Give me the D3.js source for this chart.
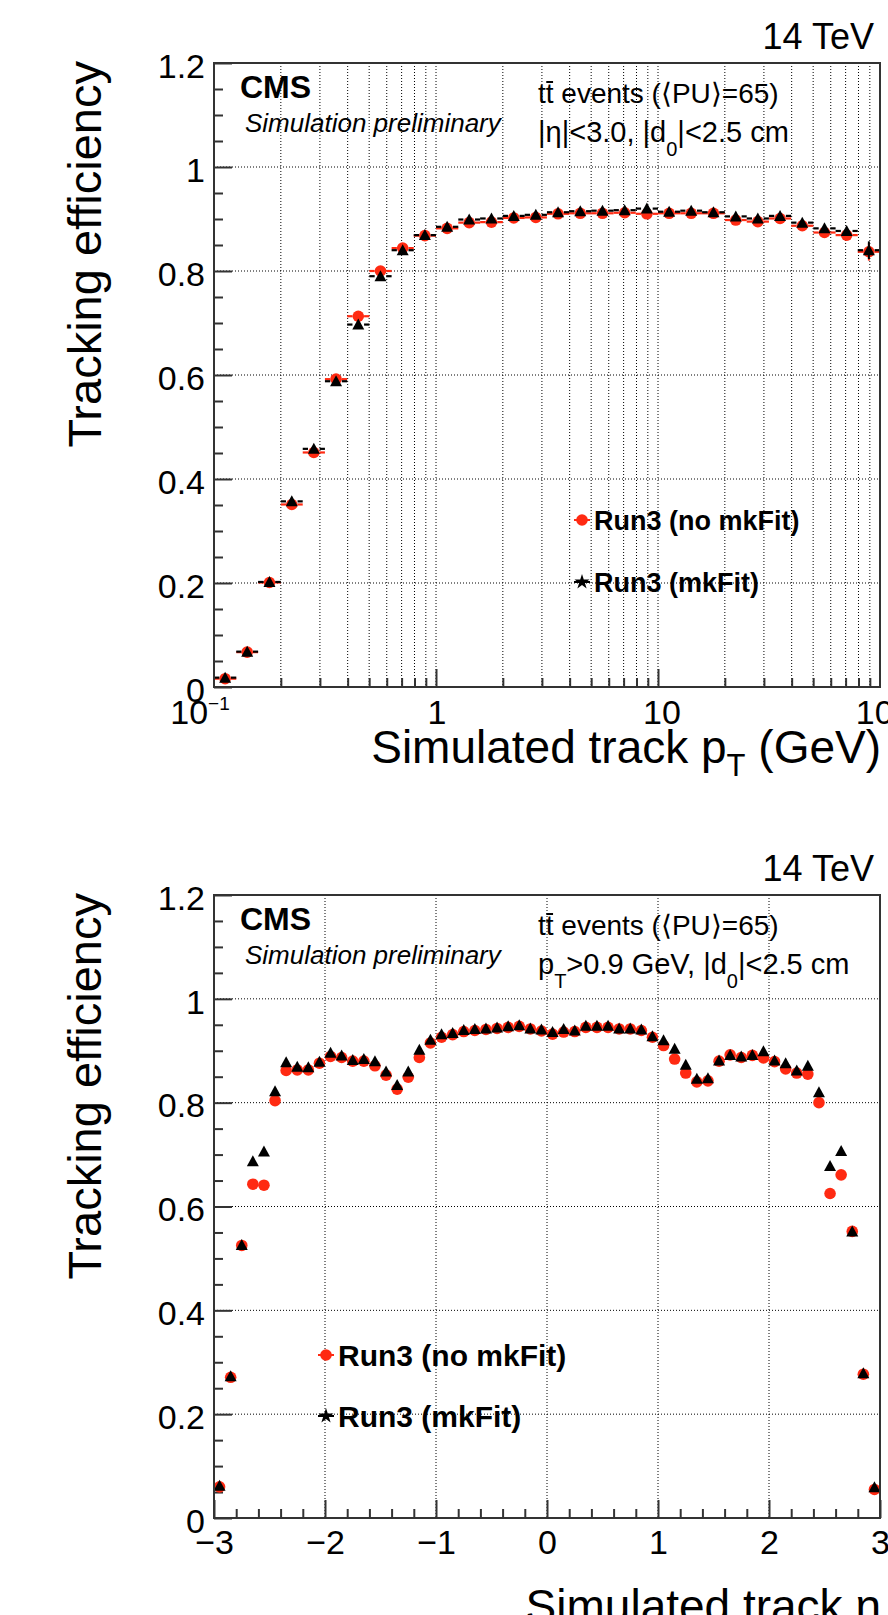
<!DOCTYPE html>
<html lang="en">
<head>
<meta charset="utf-8">
<title>Tracking efficiency</title>
<script src="https://cdnjs.cloudflare.com/ajax/libs/d3/7.8.5/d3.min.js"></script>
<style>
  body { margin: 0; background: #fff; }
  svg text { font-family: "Liberation Sans", Arial, Helvetica, sans-serif; fill: #000; }
</style>
</head>
<body>
<div id="chart"></div>
<script>

// ---- data ----
// pT bins (GeV), 10 per decade
var ptEdges = [0.1, 0.126, 0.158, 0.2, 0.251, 0.316, 0.398, 0.501, 0.631, 0.794,
               1, 1.26, 1.58, 2, 2.51, 3.16, 3.98, 5.01, 6.31, 7.94,
               10, 12.6, 15.8, 20, 25.1, 31.6, 39.8, 50.1, 63.1, 79.4, 100];
var ptMkFit = [0.018, 0.068, 0.202, 0.357, 0.458, 0.588, 0.697, 0.790, 0.840, 0.869,
               0.885, 0.899, 0.901, 0.906, 0.908, 0.913, 0.915, 0.916, 0.917, 0.920,
               0.914, 0.916, 0.913, 0.905, 0.901, 0.906, 0.893, 0.882, 0.877, 0.840];
var ptNoMkFit = [0.016, 0.067, 0.201, 0.351, 0.451, 0.592, 0.713, 0.800, 0.844, 0.868,
                 0.882, 0.893, 0.894, 0.902, 0.903, 0.910, 0.911, 0.911, 0.912, 0.910,
                 0.911, 0.911, 0.911, 0.898, 0.895, 0.901, 0.887, 0.874, 0.869, 0.837];
var ptErr = [0, 0, 0, 0, 0, 0, 0, 0, 0, 0, 0, 0, 0, 0, 0, 0, 0, 0, 0, 0,
             0, 0, 0, 0, 0, 0, 0, 0, 0, 0.017];

// eta bins, width 0.1
var etaEdges = [-3, -2.9, -2.8, -2.7, -2.6, -2.5, -2.4, -2.3, -2.2, -2.1,
                -2, -1.9, -1.8, -1.7, -1.6, -1.5, -1.4, -1.3, -1.2, -1.1,
                -1, -0.9, -0.8, -0.7, -0.6, -0.5, -0.4, -0.3, -0.2, -0.1,
                0, 0.1, 0.2, 0.3, 0.4, 0.5, 0.6, 0.7, 0.8, 0.9,
                1, 1.1, 1.2, 1.3, 1.4, 1.5, 1.6, 1.7, 1.8, 1.9,
                2, 2.1, 2.2, 2.3, 2.4, 2.5, 2.6, 2.7, 2.8, 2.9, 3];
var etaMkFit = [0.062, 0.273, 0.526, 0.687, 0.706, 0.822, 0.878, 0.869, 0.868, 0.879,
                0.896, 0.891, 0.882, 0.884, 0.880, 0.860, 0.834, 0.860, 0.902, 0.921,
                0.932, 0.934, 0.940, 0.942, 0.943, 0.945, 0.947, 0.949, 0.943, 0.941,
                0.936, 0.942, 0.939, 0.948, 0.948, 0.948, 0.943, 0.943, 0.941, 0.928,
                0.920, 0.904, 0.873, 0.846, 0.847, 0.881, 0.892, 0.889, 0.892, 0.899,
                0.881, 0.876, 0.862, 0.871, 0.820, 0.678, 0.707, 0.552, 0.279, 0.059];
var etaNoMkFit = [0.060, 0.271, 0.525, 0.643, 0.641, 0.804, 0.862, 0.863, 0.863, 0.876,
                  0.889, 0.887, 0.880, 0.880, 0.871, 0.853, 0.826, 0.849, 0.887, 0.915,
                  0.926, 0.931, 0.937, 0.939, 0.941, 0.943, 0.945, 0.947, 0.942, 0.938,
                  0.932, 0.936, 0.937, 0.945, 0.945, 0.945, 0.942, 0.942, 0.939, 0.926,
                  0.910, 0.884, 0.857, 0.840, 0.842, 0.880, 0.892, 0.887, 0.891, 0.886,
                  0.879, 0.865, 0.857, 0.855, 0.800, 0.625, 0.661, 0.552, 0.277, 0.055];

var yTicks = [0, 0.2, 0.4, 0.6, 0.8, 1, 1.2];
var yTickLabels = ["0", "0.2", "0.4", "0.6", "0.8", "1", "1.2"];
var yMinorTicks = [0.05, 0.1, 0.15, 0.25, 0.3, 0.35, 0.45, 0.5, 0.55, 0.65, 0.7, 0.75,
                   0.85, 0.9, 0.95, 1.05, 1.1, 1.15];
var ptTicks = [0.1, 1, 10, 100];
var ptTickLabels = [["10", "\u22121"], ["1", ""], ["10", ""], ["10", "2"]];
var etaTicks = [-3, -2, -1, 0, 1, 2, 3];
var etaTickLabels = ["\u22123", "\u22122", "\u22121", "0", "1", "2", "3"];
var etaMinorTicks = [-2.8, -2.6, -2.4, -2.2, -1.8, -1.6, -1.4, -1.2, -0.8, -0.6, -0.4, -0.2,
                     0.2, 0.4, 0.6, 0.8, 1.2, 1.4, 1.6, 1.8, 2.2, 2.4, 2.6, 2.8];
var seriesNames = ["Run3 (no mkFit)", "Run3 (mkFit)"];

// ---- layout ----
var svgWidth = 888, svgHeight = 1615;
var left = 214, right = 880;
var frameColor = "#333";
var red = "#ff2a12";
var markR = 5.8;
var ptLabelShift = [-14, 1, 4, 0];

var svg = d3.select("#chart").append("svg")
  .attr("width", svgWidth)
  .attr("height", svgHeight);

var triPath = "M-6,5L6,5L0,-6Z";

function toBins(edges, vals, errs, xs) {
  return vals.map(function (v, i) {
    var lo = edges[i], hi = edges[i + 1];
    var c = xs.type === "log" ? Math.sqrt(lo * hi) : (lo + hi) / 2;
    return {lo: lo, hi: hi, c: c, v: v, e: errs ? errs[i] : 0};
  });
}

function drawSeries(g, x, y, bins, color, isTri) {
  // horizontal error bars, ROOT style: gap around the marker
  bins.forEach(function (b) {
    var cx = x(b.c), cy = y(b.v);
    if (cx - x(b.lo) > markR) {
      g.append("line").attr("x1", x(b.lo)).attr("x2", cx - markR)
        .attr("y1", cy).attr("y2", cy).attr("stroke", color).attr("stroke-width", 2.2);
      g.append("line").attr("x1", cx + markR).attr("x2", x(b.hi))
        .attr("y1", cy).attr("y2", cy).attr("stroke", color).attr("stroke-width", 2.2);
    }
    if (b.e > 0) {
      g.append("line").attr("x1", cx).attr("x2", cx)
        .attr("y1", y(b.v + b.e)).attr("y2", y(b.v - b.e))
        .attr("stroke", color).attr("stroke-width", 2);
    }
  });
  if (isTri) {
    g.selectAll(null).data(bins).enter().append("path")
      .attr("d", triPath)
      .attr("transform", d => `translate(${x(d.c)},${y(d.v)})`)
      .attr("fill", color);
  } else {
    g.selectAll(null).data(bins).enter().append("circle")
      .attr("cx", d => x(d.c)).attr("cy", d => y(d.v))
      .attr("r", markR).attr("fill", color);
  }
}

function drawPanel(p) {
  var top = p.top, bottom = p.bottom;
  var x = p.x;
  var y = d3.scaleLinear().domain([0, 1.2]).range([bottom, top]);
  var g = svg.append("g");

  // dotted grid
  g.selectAll(null).data(p.xGrid).enter().append("line")
    .attr("x1", d => x(d)).attr("x2", d => x(d))
    .attr("y1", top).attr("y2", bottom)
    .attr("stroke", "#000").attr("stroke-width", 1).attr("stroke-dasharray", "1,2");
  g.selectAll(null).data(yTicks.slice(1, -1)).enter().append("line")
    .attr("x1", left).attr("x2", right)
    .attr("y1", d => y(d)).attr("y2", d => y(d))
    .attr("stroke", "#000").attr("stroke-width", 1).attr("stroke-dasharray", "1,2");

  // y axis
  var ya = g.append("g").attr("transform", `translate(${left},0)`)
    .call(d3.axisLeft(y).tickValues(yTicks).tickSize(-18).tickPadding(9)
      .tickFormat((d, i) => yTickLabels[i]));
  g.append("g").attr("transform", `translate(${left},0)`)
    .call(d3.axisLeft(y).tickValues(yMinorTicks).tickSize(-9).tickFormat(""));

  // x axis ticks
  g.append("g").attr("transform", `translate(0,${bottom})`)
    .call(d3.axisBottom(x).tickValues(p.xMajor).tickSize(-18).tickPadding(12)
      .tickFormat(p.xLabelFn || (() => "")));
  g.append("g").attr("transform", `translate(0,${bottom})`)
    .call(d3.axisBottom(x).tickValues(p.xMinor).tickSize(-9).tickFormat(""));

  g.selectAll(".domain").remove();
  g.selectAll(".tick line").attr("stroke", frameColor).attr("stroke-width", 2);
  g.selectAll(".tick text").attr("font-family", null).attr("font-size", 34).attr("fill", "#000");
  ya.selectAll(".tick text").attr("dy", "0.42em");

  // data
  var binsRed = toBins(p.edges, p.red, p.err, p.xInfo);
  var binsBlack = toBins(p.edges, p.black, p.err, p.xInfo);
  drawSeries(g, x, y, binsRed, red, false);
  drawSeries(g, x, y, binsBlack, "#000", true);

  // frame
  g.append("rect").attr("x", left).attr("y", top)
    .attr("width", right - left).attr("height", bottom - top)
    .attr("fill", "none").attr("stroke", frameColor).attr("stroke-width", 2);

  // y axis title
  svg.append("text")
    .attr("transform", `translate(101,${top - 2}) rotate(-90)`)
    .attr("text-anchor", "end").attr("font-size", 47)
    .text("Tracking efficiency");

  // labels
  svg.append("text").attr("x", 874).attr("y", top - 14)
    .attr("text-anchor", "end").attr("font-size", 36).text("14 TeV");
  svg.append("text").attr("x", 240).attr("y", top + 35)
    .attr("font-size", 32).attr("font-weight", "bold").text("CMS");
  svg.append("text").attr("x", 245).attr("y", top + 69)
    .attr("font-size", 26).attr("font-style", "italic").text("Simulation preliminary");

  var l1 = svg.append("text").attr("x", 538).attr("y", top + 40)
    .attr("font-size", 28).text("tt events (\u27E8PU\u27E9=65)");
  var n = l1.node();
  var s = n.getStartPositionOfChar(1).x, e = n.getEndPositionOfChar(1).x;
  svg.append("line").attr("x1", s + 0.5).attr("x2", e - 0.5)
    .attr("y1", top + 19).attr("y2", top + 19)
    .attr("stroke", "#000").attr("stroke-width", 2);

  var l2 = svg.append("text").attr("x", 538).attr("y", top + 79).attr("font-size", 29);
  p.cut(l2);

  // legend
  var lg = svg.append("g");
  var lx = p.legend.x, ly = p.legend.y;
  lg.append("line").attr("x1", lx - 8).attr("x2", lx + 8).attr("y1", ly[0]).attr("y2", ly[0])
    .attr("stroke", red).attr("stroke-width", 2);
  lg.append("circle").attr("cx", lx).attr("cy", ly[0]).attr("r", markR).attr("fill", red);
  lg.append("line").attr("x1", lx - 8).attr("x2", lx + 8).attr("y1", ly[1]).attr("y2", ly[1])
    .attr("stroke", "#000").attr("stroke-width", 2);
  lg.append("path").attr("d", d3.symbol(d3.symbolStar, 70)())
    .attr("transform", `translate(${lx},${ly[1]})`).attr("fill", "#000");
  seriesNames.forEach(function (name, i) {
    lg.append("text").attr("x", lx + 12).attr("y", ly[i] + p.legend.fs * 0.36)
      .attr("font-size", p.legend.fs).attr("font-weight", "bold").text(name);
  });

  return {x: x, y: y};
}

// ---- top panel: pT ----
var xPt = d3.scaleLog().domain([0.1, 100]).range([left, right]);
var ptGrid = xPt.ticks().filter(d => d > 0.1 && d < 100);
drawPanel({
  top: 63, bottom: 687,
  x: xPt, xInfo: {type: "log"},
  xGrid: ptGrid,
  xMajor: [1, 10],
  xMinor: ptGrid.filter(d => d !== 1 && d !== 10),
  edges: ptEdges, red: ptNoMkFit, black: ptMkFit, err: ptErr,
  legend: {x: 582, y: [520, 582], fs: 27},
  cut: function (t) {
    t.append("tspan").text("|\u03B7|<3.0, |d");
    t.append("tspan").attr("font-size", 20).attr("dy", 14).text("0");
    t.append("tspan").attr("dy", -14).text("|<2.5 cm");
  }
});
ptTicks.forEach(function (v, i) {
  var t = svg.append("text").attr("x", xPt(v) + ptLabelShift[i]).attr("y", 724)
    .attr("text-anchor", "middle").attr("font-size", 34);
  t.append("tspan").text(ptTickLabels[i][0]);
  if (ptTickLabels[i][1]) {
    t.append("tspan").attr("font-size", 19).attr("dy", -14).text(ptTickLabels[i][1]);
  }
});
var xt1 = svg.append("text").attr("x", 881).attr("y", 763)
  .attr("text-anchor", "end").attr("font-size", 46);
xt1.append("tspan").text("Simulated track p");
xt1.append("tspan").attr("font-size", 31).attr("dy", 13).text("T");
xt1.append("tspan").attr("dy", -13).text(" (GeV)");

// ---- bottom panel: eta ----
var xEta = d3.scaleLinear().domain([-3, 3]).range([left, right]);
drawPanel({
  top: 895, bottom: 1518,
  x: xEta, xInfo: {type: "lin"},
  xGrid: etaTicks.slice(1, -1),
  xMajor: etaTicks,
  xMinor: etaMinorTicks,
  xLabelFn: (d, i) => etaTickLabels[i],
  edges: etaEdges, red: etaNoMkFit, black: etaMkFit, err: null,
  legend: {x: 326, y: [1355, 1416], fs: 30},
  cut: function (t) {
    t.append("tspan").text("p");
    t.append("tspan").attr("font-size", 20).attr("dy", 14).text("T");
    t.append("tspan").attr("dy", -14).text(">0.9 GeV, |d");
    t.append("tspan").attr("font-size", 20).attr("dy", 14).text("0");
    t.append("tspan").attr("dy", -14).text("|<2.5 cm");
  }
});
svg.append("text").attr("x", 881).attr("y", 1622)
  .attr("text-anchor", "end").attr("font-size", 46)
  .text("Simulated track \u03B7");

</script>
</body>
</html>
